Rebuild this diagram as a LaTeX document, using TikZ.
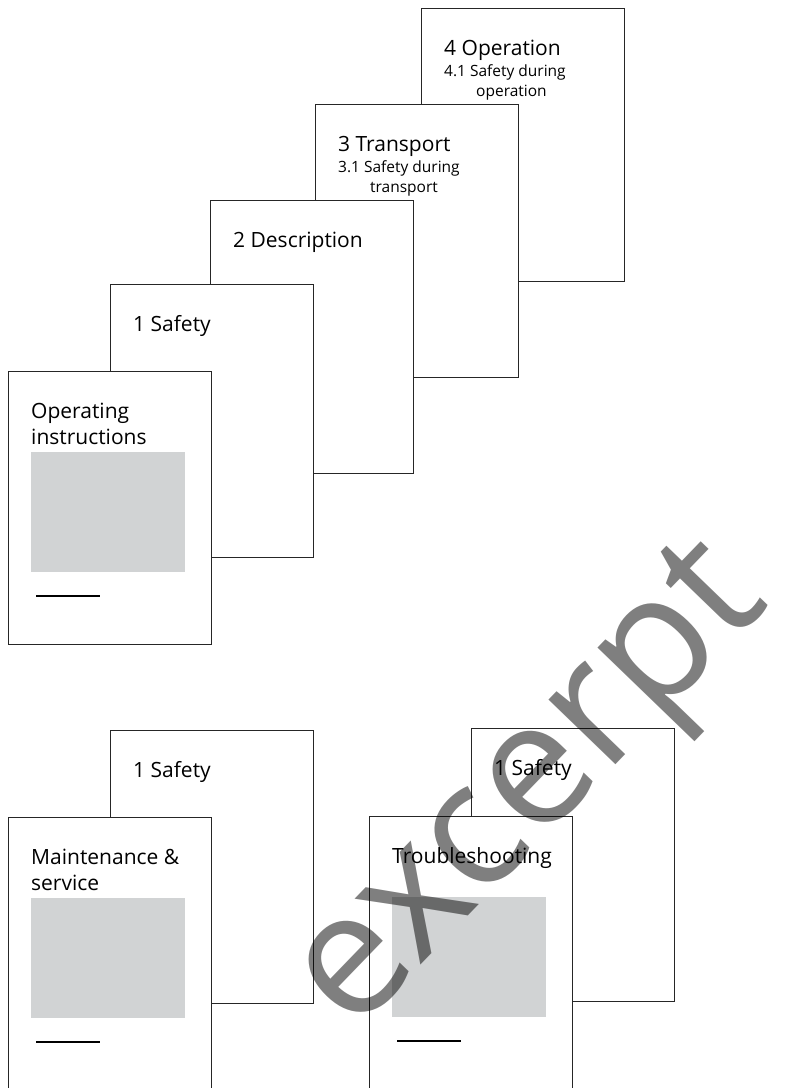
\documentclass[tikz,border=0pt]{standalone}
\usepackage{fontspec}
\setmainfont{Open Sans}
\definecolor{boxgray}{HTML}{D1D3D4}

\begin{document}
\begin{tikzpicture}[x=1pt, y=-1pt,
	page/.style={draw=black!85, line width=1pt, fill=white, minimum width=203pt, minimum height=273pt, inner sep=0pt, anchor=north west},
	head/.style={anchor=base west, inner sep=0pt, align=left, font=\fontsize{21}{26}\selectfont},
	subhead/.style={anchor=base west, inner sep=0pt, align=left, font=\fontsize{15.5}{20.5}\selectfont},
	picbox/.style={fill=boxgray, minimum width=154pt, minimum height=120pt, inner sep=0pt, anchor=north west},
	rule/.style={draw=black, line width=1.2pt}]

					\useasboundingbox (0,0) rectangle (795,1088);
					\clip (0,0) rectangle (795,1088);

					\node[page] (p4) at (421,8) {};
					\node[head] (p4h) at ([shift={(23,47)}]p4.north west) {4 Operation};
					\node[subhead] (p4s) at ([shift={(23,88.5)}]p4.north west) {4.1 Safety during\\\hspace*{32pt}operation};

					\node[page] (p3) at (315,104) {};
					\node[head] (p3h) at ([shift={(23,47)}]p3.north west) {3 Transport};
					\node[subhead] (p3s) at ([shift={(23,88.5)}]p3.north west) {3.1 Safety during\\\hspace*{32pt}transport};

					\node[page] (p2) at (210,200) {};
					\node[head] (p2h) at ([shift={(23,47)}]p2.north west) {2 Description};

					\node[page] (p1) at (110,284) {};
					\node[head] (p1h) at ([shift={(23,47)}]p1.north west) {1 Safety};

					\node[page] (p0) at (8,371) {};
					\node[head] (p0h) at ([shift={(23,73)}]p0.north west) {Operating\\instructions};
					\node[picbox] (p0b) at ([shift={(23,81)}]p0.north west) {};
					\coordinate (p0l) at ([shift={(28,225)}]p0.north west);
					\coordinate (p0r) at ([shift={(92,225)}]p0.north west);
					\draw[rule] (p0l) -- (p0r);

					\node[page] (m1) at (110,730) {};
					\node[head] (m1h) at ([shift={(23,47)}]m1.north west) {1 Safety};

					\node[page] (m0) at (8,817) {};
					\node[head] (m0h) at ([shift={(23,73)}]m0.north west) {Maintenance \&\\service};
					\node[picbox] (m0b) at ([shift={(23,81)}]m0.north west) {};
					\coordinate (m0l) at ([shift={(28,225)}]m0.north west);
					\coordinate (m0r) at ([shift={(92,225)}]m0.north west);
					\draw[rule] (m0l) -- (m0r);

					\node[page] (t1) at (471,728) {};
					\node[head] (t1h) at ([shift={(23,47)}]t1.north west) {1 Safety};

					\node[page] (t0) at (369,816) {};
					\node[head] (t0h) at ([shift={(23,47)}]t0.north west) {Troubleshooting};
					\node[picbox] (t0b) at ([shift={(23,81)}]t0.north west) {};
					\coordinate (t0l) at ([shift={(28,225)}]t0.north west);
					\coordinate (t0r) at ([shift={(92,225)}]t0.north west);
					\draw[rule] (t0l) -- (t0r);

					\node[rotate=46, opacity=0.5, inner sep=0pt, font=\fontsize{174}{174}\selectfont] (wm) at (536,794) {excerpt};

				\end{tikzpicture}
\end{document}
